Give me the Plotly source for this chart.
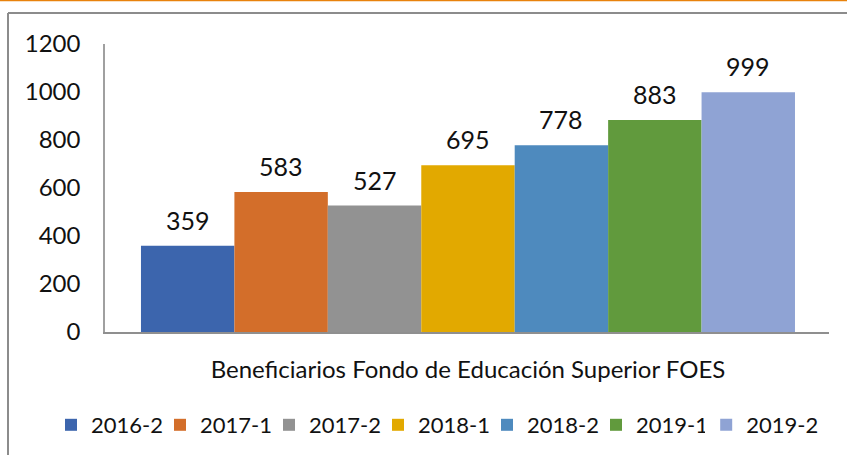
import plotly.graph_objects as go

category = "Beneficiarios Fondo de Educación Superior FOES"
series = ["2016-2", "2017-1", "2017-2", "2018-1", "2018-2", "2019-1", "2019-2"]
values = [359, 583, 527, 695, 778, 883, 999]
colors = ["#3C65AD", "#D36E2A", "#929292", "#E2A900", "#4E8ABE", "#619A3D", "#8FA3D4"]
y_ticks = [0, 200, 400, 600, 800, 1000, 1200]

FONT = "Lato"
ENTRY_PITCH = 109.2
fig = go.Figure()
for i, (s, v, c) in enumerate(zip(series, values, colors)):
    fig.add_trace(go.Bar(x=[i], y=[v], width=1, name=s, marker=dict(color=c, line=dict(width=0)),
                         hoverinfo="name+y",
                         legend="legend2" if i == len(series) - 1 else "legend"))
    fig.add_annotation(x=i, y=v, text=str(v), showarrow=False, yanchor="bottom", yshift=9,
                       font=dict(family=FONT, size=25, color="#111"))

L, R, T, B = 105, 18, 44, 123
W, H = 847, 455
pw, ph = W - L - R, H - T - B

def px_x(p):
    return (p - L) / pw

def px_y(p):
    return (H - B - p) / ph

shapes = [
    dict(type="line", xref="paper", yref="paper", x0=px_x(8), x1=px_x(W + 5), y0=px_y(13), y1=px_y(13),
         line=dict(color="#8C8C8C", width=2)),
    dict(type="line", xref="paper", yref="paper", x0=px_x(8), x1=px_x(8), y0=px_y(13), y1=px_y(H + 5),
         line=dict(color="#8C8C8C", width=2)),
    dict(type="line", xref="paper", yref="paper", x0=px_x(-5), x1=px_x(W + 5), y0=px_y(0.5), y1=px_y(0.5),
         line=dict(color="#E8820C", width=1.5)),
]

legend_style = dict(orientation="h", xanchor="left", y=px_y(425), yanchor="middle",
                    font=dict(family=FONT, size=22, color="#111"), traceorder="normal",
                    itemwidth=30, bgcolor="rgba(0,0,0,0)")

fig.update_layout(
    width=W, height=H,
    margin=dict(l=L, r=R, t=T, b=B, autoexpand=False),
    barmode="overlay",
    plot_bgcolor="white", paper_bgcolor="white",
    font=dict(family=FONT, size=24, color="#111"),
    showlegend=True,
    legend=dict(x=px_x(51), entrywidth=64, **legend_style),
    legend2=dict(x=px_x(51 + (len(series) - 1) * ENTRY_PITCH), **legend_style),
    shapes=shapes,
    xaxis=dict(range=[-0.885, 6.864], tickvals=[3], ticktext=[category], showgrid=False,
               zeroline=False, showline=True, linecolor="#8F8F8F", linewidth=2, ticks="",
               ticklabelstandoff=15, fixedrange=True),
    yaxis=dict(range=[0, 1200], tickvals=y_ticks, showgrid=False, zeroline=False,
               showline=True, linecolor="#A0A0A0", linewidth=1.5, ticks="",
               ticklabelstandoff=18, fixedrange=True),
)
fig.write_html("out.html", config={"displayModeBar": False},
               post_script="document.body.style.margin='0';")
